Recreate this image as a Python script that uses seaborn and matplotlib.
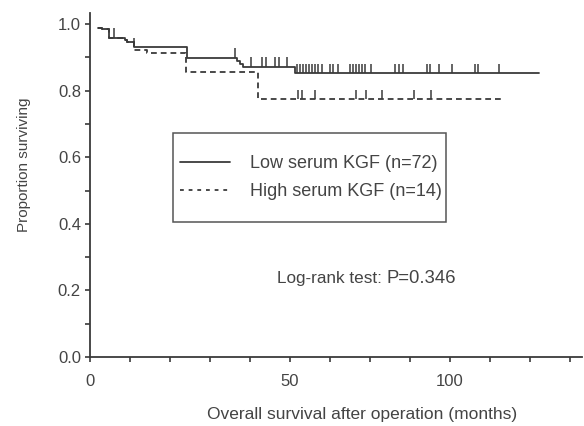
import numpy as np
import pandas as pd
import matplotlib
matplotlib.use("Agg")
import matplotlib.pyplot as plt
from matplotlib.path import Path
from matplotlib.lines import Line2D
from matplotlib.patches import Rectangle
import seaborn as sns

# ---------------- data ----------------
# Kaplan-Meier step points: time (months) of each step and survival after it
low_time = [2.3, 3.2, 5.3, 9.7, 10.4, 12.3, 26.9, 40.7, 41.7, 42.4, 56.9]
low_surv = [0.989, 0.985, 0.958, 0.951, 0.945, 0.930, 0.899, 0.890, 0.881, 0.872, 0.852]
low_end = 124.8
low_censor = [6.75, 12.3, 40.3, 44.7, 47.8, 48.9, 51.4, 52.4, 54.7,
              57.5, 58.3, 59.2, 60.0, 60.8, 61.7, 62.5, 63.3, 64.4,
              66.7, 67.5, 68.9, 72.2, 73.1, 73.9, 74.7, 75.6, 76.4, 78.1,
              84.7, 85.8, 86.9, 93.6, 94.4, 96.9, 100.6, 106.9, 107.8, 113.6]

high_time = [2.3, 3.2, 5.3, 9.7, 10.4, 12.3, 15.7, 26.6, 46.8]
high_surv = [0.989, 0.985, 0.958, 0.951, 0.945, 0.922, 0.912, 0.856, 0.775]
high_end = 114.7
high_censor = [57.8, 58.75, 62.4, 73.75, 76.7, 81.1, 90.1, 94.7]

labels = ["Low serum KGF (n=72)", "High serum KGF (n=14)"]
x_tick_labels = ["0", "50", "100"]
logrank_label = "Log-rank test:"
p_label = "P=0.346"

# ---------------- style ----------------
sns.set_style("ticks")
plt.rcParams["font.family"] = ["Liberation Sans", "DejaVu Sans"]
ink = "#3a3a3a"
txt = "#444444"
plt.rcParams["text.color"] = txt
plt.rcParams["axes.labelcolor"] = txt
plt.rcParams["xtick.color"] = ink
plt.rcParams["ytick.color"] = ink
plt.rcParams["xtick.labelcolor"] = txt
plt.rcParams["ytick.labelcolor"] = txt

W, H = 584, 426
fig = plt.figure(figsize=(W / 100, H / 100), dpi=100)
x0, x1, y0, y1 = 90, 582, 357, 13
ax = fig.add_axes([x0 / W, 1 - y0 / H, (x1 - x0) / W, (y0 - y1) / H])

px_per_month = 3.6
ax.set_xlim(0, (x1 - x0) / px_per_month)
ax.set_ylim(0, (y0 - y1) / 333.0)


def step_df(times, surv, end):
    return pd.DataFrame({"t": list(times) + [end], "s": list(surv) + [surv[-1]]})


def censor_df(times, surv, ct):
    idx = np.searchsorted(np.array(times), np.array(ct), side="right") - 1
    return pd.DataFrame({"t": ct, "s": np.array(surv)[idx]})


lw = 1.3
dash = (0, (3.2, 2.2))
sns.lineplot(data=step_df(low_time, low_surv, low_end), x="t", y="s", ax=ax,
             drawstyle="steps-post", estimator=None, sort=False, color=ink,
             linewidth=lw, legend=False)
sns.lineplot(data=step_df(high_time, high_surv, high_end), x="t", y="s", ax=ax,
             drawstyle="steps-post", estimator=None, sort=False, color=ink,
             linewidth=lw, linestyle=dash, legend=False)

tick_marker = Path([(0, 0), (0, 1)], [Path.MOVETO, Path.LINETO])
sns.scatterplot(data=censor_df(low_time, low_surv, low_censor), x="t", y="s", ax=ax,
                marker=tick_marker, s=190, facecolor="none", edgecolor=ink,
                linewidth=1.1, legend=False, zorder=3)
sns.scatterplot(data=censor_df(high_time, high_surv, high_censor), x="t", y="s", ax=ax,
                marker=tick_marker, s=160, facecolor="none", edgecolor=ink,
                linewidth=1.1, legend=False, zorder=3)

# axes cosmetics
sns.despine(ax=ax)
for sp in ("left", "bottom"):
    ax.spines[sp].set_color(ink)
    ax.spines[sp].set_linewidth(1.3)

step_px = 40
xt = [k * step_px / px_per_month for k in range(13)]
ax.set_xticks(xt)
xl = [""] * 13
xl[0], xl[5], xl[9] = x_tick_labels
ax.set_xticklabels(xl, fontsize=12)
yt = np.round(np.arange(0, 1.01, 0.1), 1)
ax.set_yticks(yt)
ax.set_yticklabels([f"{v:.1f}" if round(v * 10) % 2 == 0 else "" for v in yt], fontsize=12)
ax.tick_params(axis="both", direction="out", length=3.5, width=1.2)
ax.tick_params(axis="x", pad=9)
ax.tick_params(axis="y", pad=3)

ax.set_xlabel("Overall survival after operation (months)", fontsize=12.5)
ax.xaxis.set_label_coords((362 - x0) / (x1 - x0), -(415 - y0) / (y0 - y1))
ax.xaxis.label.set_va("center")
ax.set_ylabel("Proportion surviving", fontsize=11)
ax.yaxis.label.set_va("center")
ax.yaxis.set_label_coords((24 - x0) / (x1 - x0), (y0 - 165) / (y0 - y1))

# legend
handles = [Line2D([], [], color=ink, lw=lw),
           Line2D([], [], color=ink, lw=lw, linestyle=(0, (2.1, 2.7)))]
fig.legend(handles, labels, loc="center", frameon=False, fontsize=13,
           bbox_to_anchor=(311.2 / W, 1 - 177.5 / H), borderpad=0,
           handlelength=2.77, handletextpad=1.1, labelspacing=0.6)
fig.add_artist(Rectangle((172.7 / W, 1 - 221.7 / H), (446 - 172.7) / W, (221.7 - 133.3) / H,
                         transform=fig.transFigure, fill=False, edgecolor="#555555", lw=1.1))

fig.text(276.7 / W, 1 - 283.3 / H, logrank_label, fontsize=12.3, va="baseline", ha="left")
fig.text(386.7 / W, 1 - 283.3 / H, p_label, fontsize=13.3, va="baseline", ha="left")

fig.savefig("out.png", dpi=100)
